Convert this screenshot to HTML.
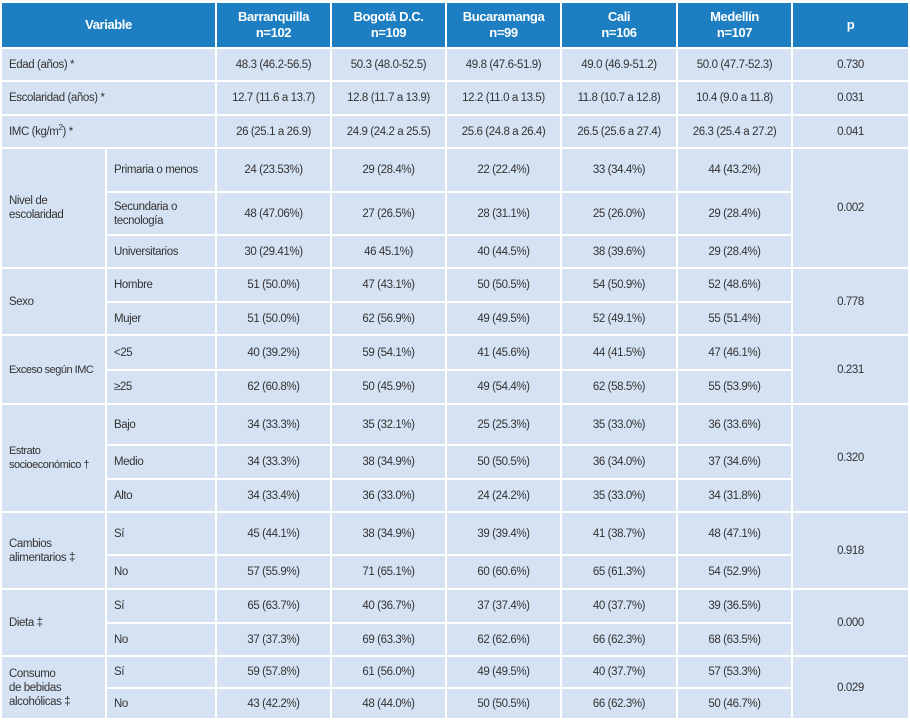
<!DOCTYPE html>
<html><head><meta charset="utf-8">
<style>
html,body{margin:0;padding:0;background:#fff;width:910px;height:727px;overflow:hidden}
table{position:absolute;left:0;top:1px;border-collapse:separate;border-spacing:2px;table-layout:fixed;
 font-family:"Liberation Sans Narrow","Liberation Sans",sans-serif;font-size:11.5px;letter-spacing:-0.4px;color:#333}
td,th{background:#d5e2f3;padding:0;text-align:center;vertical-align:middle;line-height:14px;overflow:hidden;white-space:nowrap}
th{background:#1d7fc2;color:#fff;font-weight:bold;font-size:13px;line-height:16px}
td.l{text-align:left;padding-left:7px}
</style></head><body>
<table>
<colgroup><col style="width:103px"><col style="width:108px"><col style="width:113px"><col style="width:113px"><col style="width:113px"><col style="width:114px"><col style="width:113px"><col style="width:115px"></colgroup>
<tr style="height:44px"><th colspan="2">Variable</th><th>Barranquilla<br>n=102</th><th>Bogotá D.C.<br>n=109</th><th>Bucaramanga<br>n=99</th><th>Cali<br>n=106</th><th>Medellín<br>n=107</th><th>p</th></tr>
<tr style="height:31px"><td class="l" colspan="2">Edad (años) *</td><td>48.3 (46.2-56.5)</td><td>50.3 (48.0-52.5)</td><td>49.8 (47.6-51.9)</td><td>49.0 (46.9-51.2)</td><td>50.0 (47.7-52.3)</td><td>0.730</td></tr>
<tr style="height:32px"><td class="l" colspan="2">Escolaridad (años) *</td><td>12.7 (11.6 a 13.7)</td><td>12.8 (11.7 a 13.9)</td><td>12.2 (11.0 a 13.5)</td><td>11.8 (10.7 a 12.8)</td><td>10.4 (9.0 a 11.8)</td><td>0.031</td></tr>
<tr style="height:31px"><td class="l" colspan="2">IMC (kg/m<sup style="font-size:8px;line-height:0">2</sup>) *</td><td>26 (25.1 a 26.9)</td><td>24.9 (24.2 a 25.5)</td><td>25.6 (24.8 a 26.4)</td><td>26.5 (25.6 a 27.4)</td><td>26.3 (25.4 a 27.2)</td><td>0.041</td></tr>
<tr style="height:42px"><td class="l" rowspan="3">Nivel de<br>escolaridad</td><td class="l">Primaria o menos</td><td>24 (23.53%)</td><td>29 (28.4%)</td><td>22 (22.4%)</td><td>33 (34.4%)</td><td>44 (43.2%)</td><td rowspan="3">0.002</td></tr>
<tr style="height:41px"><td class="l">Secundaria o<br>tecnología</td><td>48 (47.06%)</td><td>27 (26.5%)</td><td>28 (31.1%)</td><td>25 (26.0%)</td><td>29 (28.4%)</td></tr>
<tr style="height:31px"><td class="l">Universitarios</td><td>30 (29.41%)</td><td>46 45.1%)</td><td>40 (44.5%)</td><td>38 (39.6%)</td><td>29 (28.4%)</td></tr>
<tr style="height:32px"><td class="l" rowspan="2">Sexo</td><td class="l">Hombre</td><td>51 (50.0%)</td><td>47 (43.1%)</td><td>50 (50.5%)</td><td>54 (50.9%)</td><td>52 (48.6%)</td><td rowspan="2">0.778</td></tr>
<tr style="height:31px"><td class="l">Mujer</td><td>51 (50.0%)</td><td>62 (56.9%)</td><td>49 (49.5%)</td><td>52 (49.1%)</td><td>55 (51.4%)</td></tr>
<tr style="height:33px"><td class="l" rowspan="2" style="font-size:11px;letter-spacing:-0.5px">Exceso según IMC</td><td class="l">&lt;25</td><td>40 (39.2%)</td><td>59 (54.1%)</td><td>41 (45.6%)</td><td>44 (41.5%)</td><td>47 (46.1%)</td><td rowspan="2">0.231</td></tr>
<tr style="height:32px"><td class="l">≥25</td><td>62 (60.8%)</td><td>50 (45.9%)</td><td>49 (54.4%)</td><td>62 (58.5%)</td><td>55 (53.9%)</td></tr>
<tr style="height:39px"><td class="l" rowspan="3" style="font-size:11px;letter-spacing:-0.5px">Estrato<br>socioeconómico †</td><td class="l">Bajo</td><td>34 (33.3%)</td><td>35 (32.1%)</td><td>25 (25.3%)</td><td>35 (33.0%)</td><td>36 (33.6%)</td><td rowspan="3">0.320</td></tr>
<tr style="height:32px"><td class="l">Medio</td><td>34 (33.3%)</td><td>38 (34.9%)</td><td>50 (50.5%)</td><td>36 (34.0%)</td><td>37 (34.6%)</td></tr>
<tr style="height:31px"><td class="l">Alto</td><td>34 (33.4%)</td><td>36 (33.0%)</td><td>24 (24.2%)</td><td>35 (33.0%)</td><td>34 (31.8%)</td></tr>
<tr style="height:41px"><td class="l" rowspan="2">Cambios<br>alimentarios ‡</td><td class="l">Sí</td><td>45 (44.1%)</td><td>38 (34.9%)</td><td>39 (39.4%)</td><td>41 (38.7%)</td><td>48 (47.1%)</td><td rowspan="2">0.918</td></tr>
<tr style="height:32px"><td class="l">No</td><td>57 (55.9%)</td><td>71 (65.1%)</td><td>60 (60.6%)</td><td>65 (61.3%)</td><td>54 (52.9%)</td></tr>
<tr style="height:32px"><td class="l" rowspan="2">Dieta ‡</td><td class="l">Sí</td><td>65 (63.7%)</td><td>40 (36.7%)</td><td>37 (37.4%)</td><td>40 (37.7%)</td><td>39 (36.5%)</td><td rowspan="2">0.000</td></tr>
<tr style="height:31px"><td class="l">No</td><td>37 (37.3%)</td><td>69 (63.3%)</td><td>62 (62.6%)</td><td>66 (62.3%)</td><td>68 (63.5%)</td></tr>
<tr style="height:30px"><td class="l" rowspan="2">Consumo<br>de bebidas<br>alcohólicas ‡</td><td class="l">Sí</td><td>59 (57.8%)</td><td>61 (56.0%)</td><td>49 (49.5%)</td><td>40 (37.7%)</td><td>57 (53.3%)</td><td rowspan="2">0.029</td></tr>
<tr style="height:29px"><td class="l">No</td><td>43 (42.2%)</td><td>48 (44.0%)</td><td>50 (50.5%)</td><td>66 (62.3%)</td><td>50 (46.7%)</td></tr>
</table>
</body></html>
